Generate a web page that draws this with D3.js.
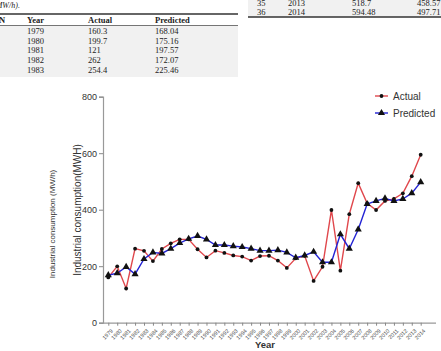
<!DOCTYPE html>
<html><head><meta charset="utf-8">
<script src="https://cdn.jsdelivr.net/npm/d3@7"></script>
<style>body{margin:0;background:#fff;overflow:hidden}svg{display:block}</style>
</head><body>
<svg id="c" width="441" height="351"></svg>
<script>
const years = d3.range(1979, 2015);
const actual = [160.3,199.7,121,262,254.4,218,261,281,295,295,260,231,255,247,238,234,220,236,237,220,194,228,237,148,198,399,184,384,494,423,399,431,438,458,518.7,594.48];
const predicted = [168.04,175.16,197.57,172.07,225.46,249,245,262,282,297,307,295,275,275,271,268,262,255,255,257,249,230,238,251,214,214,313,262,330,420,431,440,431,438,458.57,497.71];
const yTicks = [0,200,400,600,800];
const tableLeftHeader = ["N","Year","Actual","Predicted"];
const tableLeftRows = [["1979","160.3","168.04"],["1980","199.7","175.16"],["1981","121","197.57"],["1982","262","172.07"],["1983","254.4","225.46"]];
const tableRightRows = [["35","2013","518.7","458.57"],["36","2014","594.48","497.71"]];

const svg = d3.select("#c");

// ---- table fragments ----
const serif = "'Liberation Serif','Times New Roman',serif";
svg.append("rect").attr("x",0).attr("y",25).attr("width",238).attr("height",52).attr("fill","#f1f1f1");
svg.append("rect").attr("x",248).attr("y",0).attr("width",193).attr("height",17).attr("fill","#f1f1f1");
svg.append("text").attr("x",-7).attr("y",8).attr("font-family",serif).attr("font-style","italic").attr("font-size",8).attr("fill","#222").text("(MW/h).");
svg.append("line").attr("x1",0).attr("x2",238).attr("y1",14).attr("y2",14).attr("stroke","#333").attr("stroke-width",1.5);
svg.append("line").attr("x1",0).attr("x2",238).attr("y1",25.5).attr("y2",25.5).attr("stroke","#555").attr("stroke-width",0.8);
const lx = [-1,27,88,155];
tableLeftHeader.forEach((h,i)=>svg.append("text").attr("x",lx[i]).attr("y",23).attr("font-family",serif).attr("font-weight","bold").attr("font-size",8.5).attr("fill","#222").text(h));
tableLeftRows.forEach((r,j)=>r.forEach((v,i)=>svg.append("text").attr("x",lx[i+1]).attr("y",34+j*9.7).attr("font-family",serif).attr("font-size",8.5).attr("fill","#222").text(v)));
const rx = [257,288,352,417];
tableRightRows.forEach((r,j)=>r.forEach((v,i)=>svg.append("text").attr("x",rx[i]).attr("y",5.5+j*9).attr("font-family",serif).attr("font-size",8.5).attr("fill","#222").text(v)));
svg.append("line").attr("x1",248).attr("x2",441).attr("y1",17).attr("y2",17).attr("stroke","#333").attr("stroke-width",1.5);

// ---- chart ----
const sans = "'Liberation Sans',Arial,sans-serif";
const x = d3.scalePoint().domain(years).range([108.3,420.7]);
const y = d3.scaleLinear().domain([0,800]).range([322.7,96.7]);

const yAxis = svg.append("g").attr("transform","translate(103,0)")
  .call(d3.axisLeft(y).tickValues(yTicks).tickSize(4).tickPadding(2));
yAxis.select(".domain").attr("stroke","#999").attr("stroke-width",1.2);
yAxis.selectAll(".tick line").attr("stroke","#888");
yAxis.selectAll("text").attr("font-family",sans).attr("font-size",9).attr("fill","#333");

const xAxis = svg.append("g").attr("transform","translate(0,322.7)")
  .call(d3.axisBottom(x).tickSize(3).tickSizeOuter(0).tickPadding(2));
xAxis.select(".domain").attr("d","M103,0.5H436").attr("stroke","#999").attr("stroke-width",1.2);
xAxis.selectAll(".tick line").attr("stroke","#888");
xAxis.selectAll("text").attr("font-family",sans).attr("font-size",5.5).attr("fill","#444")
  .attr("text-anchor","end").attr("dy",0).attr("transform","translate(1,5) rotate(-45)");

svg.append("text").attr("transform","translate(81,210) rotate(-90)").attr("text-anchor","middle")
  .attr("font-family",sans).attr("font-size",10).attr("fill","#333").text("Industrial consumption(MWH)");
svg.append("text").attr("transform","translate(55,224) rotate(-90)").attr("text-anchor","middle")
  .attr("font-family",sans).attr("font-size",8).attr("fill","#333").text("Industrial consumption (MW/h)");
svg.append("text").attr("x",265).attr("y",348).attr("text-anchor","middle")
  .attr("font-family",sans).attr("font-weight","bold").attr("font-size",9.5).attr("fill","#333").text("Year");

const red = "#e0474c", blue = "#2323d4";
const line = vals => d3.line().x((d,i)=>x(years[i])).y(d=>y(d))(vals);
svg.append("path").attr("d",line(actual)).attr("fill","none").attr("stroke",red).attr("stroke-width",1.4);
svg.append("path").attr("d",line(predicted)).attr("fill","none").attr("stroke",blue).attr("stroke-width",1.4);
const tri = d3.symbol().type(d3.symbolTriangle).size(22);
svg.append("g").selectAll("circle").data(actual).join("circle")
  .attr("cx",(d,i)=>x(years[i])).attr("cy",d=>y(d)).attr("r",1.9).attr("fill","#111");
svg.append("g").selectAll("path").data(predicted).join("path")
  .attr("d",tri).attr("transform",(d,i)=>`translate(${x(years[i])},${y(d)})`).attr("fill","#111");

// legend
const lg = svg.append("g");
[["Actual",red,"c",96],["Predicted",blue,"t",113]].forEach(([t,c,m,yy])=>{
  lg.append("line").attr("x1",375).attr("x2",388).attr("y1",yy).attr("y2",yy).attr("stroke",c).attr("stroke-width",1.4);
  if(m==="c") lg.append("circle").attr("cx",381.5).attr("cy",yy).attr("r",1.9).attr("fill","#111");
  else lg.append("path").attr("d",tri).attr("transform",`translate(381.5,${yy})`).attr("fill","#111");
  lg.append("text").attr("x",393).attr("y",yy+3.5).attr("font-family",sans).attr("font-size",10).attr("fill","#333").text(t);
});
</script>
</body></html>
